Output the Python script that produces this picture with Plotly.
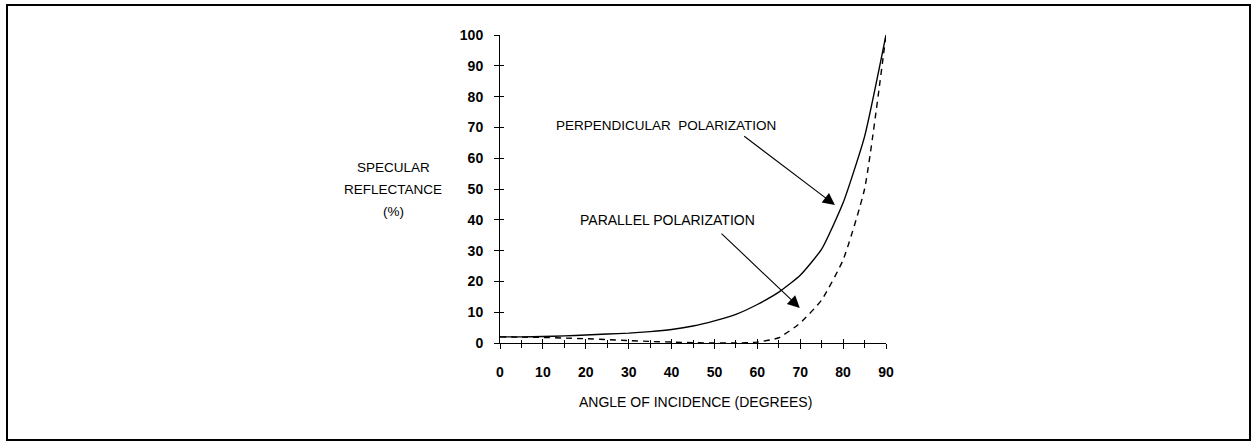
import plotly.graph_objects as go

# Angle of incidence (degrees) and specular reflectance (%) for each polarization
angles = [0, 5, 10, 15, 20, 25, 30, 35, 40, 45, 50, 55, 60, 65, 70, 75, 80, 85, 90]
perpendicular = [2.0, 2.0, 2.1, 2.3, 2.6, 2.9, 3.2, 3.7, 4.4, 5.5, 7.2, 9.3,
                 12.5, 16.5, 22.0, 30.5, 45.5, 67.0, 100.0]
parallel = [2.0, 1.9, 1.8, 1.6, 1.4, 1.1, 0.8, 0.5, 0.3, 0.1, 0.0, 0.0,
            0.3, 1.7, 6.5, 14.0, 27.0, 50.0, 100.0]

x_ticks = [0, 10, 20, 30, 40, 50, 60, 70, 80, 90]
y_ticks = [0, 10, 20, 30, 40, 50, 60, 70, 80, 90, 100]
y_title_lines = ["SPECULAR", "REFLECTANCE", "(%)"]

FONT = "Liberation Sans, Arial, Helvetica, sans-serif"
W, H = 1252, 442
ML, MR, MT, MB = 500, W - 886, 35, H - 343

fig = go.Figure()
fig.add_trace(go.Scatter(x=angles, y=perpendicular, mode="lines",
                         line=dict(color="black", width=1.4, shape="spline", smoothing=0.5),
                         showlegend=False, hoverinfo="skip"))
fig.add_trace(go.Scatter(x=angles, y=parallel, mode="lines",
                         line=dict(color="black", width=1.4, dash="6px,5px",
                                   shape="spline", smoothing=0.5),
                         showlegend=False, hoverinfo="skip"))

# ghost trace so the overlaid axes (inner half of the crossing ticks) are drawn
fig.add_trace(go.Scatter(x=[None], y=[None], xaxis="x2", yaxis="y2",
                         showlegend=False, hoverinfo="skip"))

tickfont = dict(family=FONT, size=14, color="black", weight="bold")
axis_common = dict(showgrid=False, zeroline=False, showline=True,
                   linecolor="black", linewidth=1, ticks="outside",
                   ticklen=5, tickwidth=1, tickcolor="black")

fig.update_layout(
    width=W, height=H,
    margin=dict(l=ML, r=MR, t=MT, b=MB),
    paper_bgcolor="white", plot_bgcolor="white",
    font=dict(family=FONT, color="black"),
    xaxis=dict(range=[0, 90], tickvals=x_ticks, tickfont=tickfont,
               ticklabelstandoff=11,
               minor=dict(dtick=5, ticks="outside", ticklen=4, tickcolor="black"),
               **axis_common),
    yaxis=dict(range=[0, 100], tickvals=y_ticks, tickfont=tickfont,
               ticklabelstandoff=8, **axis_common),
    xaxis2=dict(range=[0, 90], overlaying="x", anchor="y", side="bottom",
                tickvals=x_ticks, showticklabels=False, showgrid=False,
                zeroline=False, showline=False, ticks="inside", ticklen=4,
                tickcolor="black",
                minor=dict(dtick=5, ticks="inside", ticklen=3, tickcolor="black")),
    yaxis2=dict(range=[0, 100], overlaying="y", anchor="x", side="left",
                tickvals=y_ticks, showticklabels=False, showgrid=False,
                zeroline=False, showline=False, ticks="inside", ticklen=4,
                tickcolor="black"),
)


def px_x(p):
    return (p - ML) / (W - ML - MR)


def px_y(p):
    return (H - MB - p) / (H - MT - MB)


centered = dict(xanchor="center", yanchor="middle", showarrow=False)
ann = []
# axis titles
ann.append(dict(text="ANGLE OF INCIDENCE (DEGREES)", xref="paper", yref="paper",
                x=px_x(695), y=px_y(402), font=dict(family=FONT, size=14), **centered))
for i, line in enumerate(y_title_lines):
    ann.append(dict(text=line, xref="paper", yref="paper",
                    x=px_x(393), y=px_y(167 + 22 * i),
                    font=dict(family=FONT, size=13.5), **centered))
# curve labels
ann.append(dict(text="PERPENDICULAR  POLARIZATION", x=38.8, y=70.5,
                font=dict(family=FONT, size=13.5), **centered))
ann.append(dict(text="PARALLEL POLARIZATION", x=39.0, y=40.0,
                font=dict(family=FONT, size=14), **centered))
# pointer arrows
ann.append(dict(text="", x=78.1, y=44.8, ax=56.6, ay=67.5, axref="x", ayref="y",
                showarrow=True, arrowhead=2, arrowsize=2.2, arrowwidth=1.1,
                arrowcolor="black"))
ann.append(dict(text="", x=69.9, y=11.4, ax=51.3, ay=36.0, axref="x", ayref="y",
                showarrow=True, arrowhead=2, arrowsize=2.2, arrowwidth=1.1,
                arrowcolor="black"))
fig.update_layout(annotations=ann)

# outer frame around the figure
fig.add_shape(type="rect", xref="paper", yref="paper",
              x0=px_x(7), x1=px_x(1250), y0=px_y(440), y1=px_y(5),
              line=dict(color="black", width=2), fillcolor="rgba(0,0,0,0)")

fig.write_html("out.html")
